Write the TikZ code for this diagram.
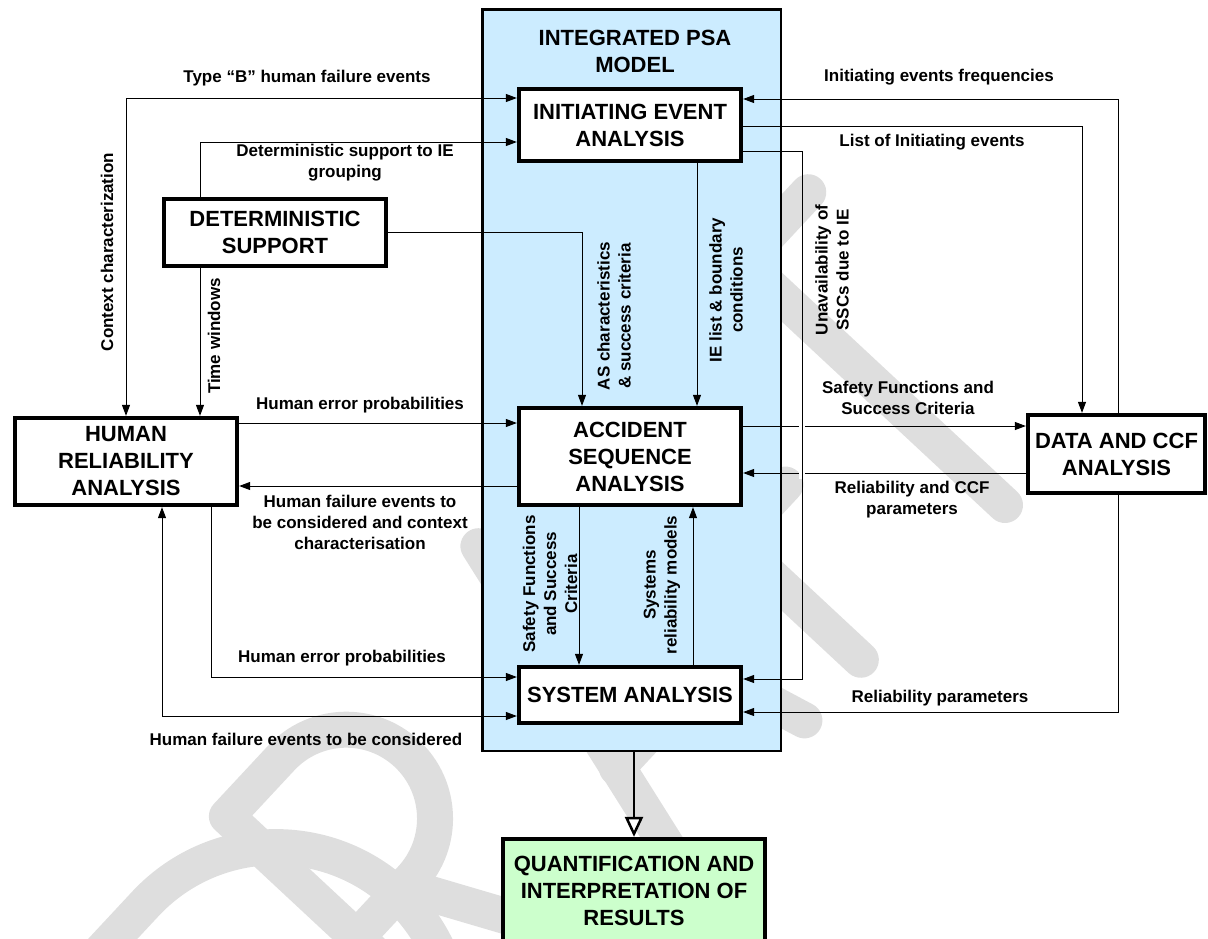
\documentclass[tikz,border=0pt]{standalone}
\usepackage{fontspec}
\setmainfont{Liberation Sans}
\usetikzlibrary{arrows.meta}

\definecolor{psablue}{RGB}{204,236,255}
\definecolor{resgreen}{RGB}{204,255,204}
\definecolor{wmgray}{RGB}{222,222,222}

\begin{document}
\begin{tikzpicture}[x=1pt, y=-1pt, >={Triangle[length=11pt,width=8pt]},
    box/.style={draw, line width=4.3pt, fill=white, align=center, inner sep=0pt,
        font=\fontsize{22}{27}\selectfont\bfseries},
    lbl/.style={align=center, inner sep=0pt, font=\fontsize{17}{21}\selectfont\bfseries},
    link/.style={line width=1pt},
    wmark/.style={draw=wmgray, line width=36pt, line cap=round, line join=round}]
    \useasboundingbox (0,0) rectangle (1208,938);
    \clip (0,0) rectangle (1208,938);

    % DRAFT watermark, letters drawn along a slanted baseline
    \begin{scope}[shift={(1005,505)}, x={(0.68pt,0.73pt)}, y={(-0.73pt,0.68pt)}]
        \draw[wmark] (-960,0) -- (-960,358) -- (-880,358)
            arc[start angle=90, end angle=-90, radius=179] -- cycle;
        \draw[wmark] (-760,0) -- (-760,358) -- (-680,358)
            arc[start angle=90, end angle=-90, radius=89] -- (-760,180);
        \draw[wmark] (-690,180) -- (-600,0);
        \draw[wmark] (-485,0) -- (-390,358) -- (-295,0);
        \draw[wmark] (-458,105) -- (-322,105);
        \draw[wmark] (-212,0) -- (-212,358) -- (-110,358);
        \draw[wmark] (-212,175) -- (-135,175);
        \draw[wmark] (0,0) -- (0,358);
        \draw[wmark] (-95,358) -- (95,358);
    \end{scope}

    % integrated model frame
    \node[draw, line width=2.5pt, fill=psablue, minimum width=298.5pt,
        minimum height=741.5pt] (psa) at (631.5,380) {};
    \node[lbl, font=\fontsize{22}{27}\selectfont\bfseries] (title) at (635,51)
        {INTEGRATED PSA\\MODEL};

    \node[box, minimum width=222pt, minimum height=72pt] (iea) at (630,125)
        {INITIATING EVENT\\ANALYSIS};
    \node[box, minimum width=222pt, minimum height=67pt] (ds) at (275,232.5)
        {DETERMINISTIC\\SUPPORT};
    \node[box, minimum width=222pt, minimum height=87pt] (hra) at (126,461.5)
        {HUMAN\\RELIABILITY\\ANALYSIS};
    \node[box, minimum width=222pt, minimum height=97pt] (asa) at (630,456.5)
        {ACCIDENT\\SEQUENCE\\ANALYSIS};
    \node[box, minimum width=177pt, minimum height=78pt] (dccf) at (1116.5,454)
        {DATA AND CCF\\ANALYSIS};
    \node[box, minimum width=222pt, minimum height=56pt] (sa) at (630,695)
        {SYSTEM ANALYSIS};
    \node[box, fill=resgreen, minimum width=262pt, minimum height=104pt] (quant) at (634,891)
        {QUANTIFICATION AND\\INTERPRETATION OF\\RESULTS};

    % bend points
    \coordinate (cB) at (126,98);
    \coordinate (dsA) at (200,142);
    \coordinate (asC) at (582,232.5);
    \coordinate (ieL) at (697,0);
    \coordinate (unC) at (802,151);
    \coordinate (unD) at (802,679);
    \coordinate (ifC) at (1118,99);
    \coordinate (liC) at (1082,126);
    \coordinate (rpC) at (1118,712);
    \coordinate (heC) at (211,677);
    \coordinate (hfC) at (162,716);
    \coordinate (sfC) at (579,0);
    \coordinate (srC) at (693,0);

    % links around the model
    \draw[link, <->] (hra.north) -- (cB) -- (cB -| iea.west);
    \draw[link, ->] (dsA |- ds.north) -- (dsA) -- (dsA -| iea.west);
    \draw[link, ->] (dsA |- ds.south) -- (dsA |- hra.north);
    \draw[link, ->] (ds.east) -- (asC) -- (asC |- asa.north);
    \draw[link, ->] (ieL |- iea.south) -- (ieL |- asa.north);
    \draw[link, ->] (ifC |- dccf.north) -- (ifC) -- (ifC -| iea.east);
    \draw[link, ->] (liC -| iea.east) -- (liC) -- (liC |- dccf.north);
    \draw[link, ->] (asa.east |- 0,426) -- (dccf.west |- 0,426);
    \draw[link, ->] (dccf.west |- 0,473) -- (asa.east |- 0,473);
    \draw[link, ->] (rpC |- dccf.south) -- (rpC) -- (rpC -| sa.east);
    \draw[link, ->] (hra.east |- 0,423) -- (asa.west |- 0,423);
    \draw[link, ->] (asa.west |- 0,486) -- (hra.east |- 0,486);
    \draw[link, ->] (heC |- hra.south) -- (heC) -- (heC -| sa.west);
    \draw[link, <->] (hfC |- hra.south) -- (hfC) -- (hfC -| sa.west);
    \draw[link, ->] (sfC |- asa.south) -- (sfC |- sa.north);
    \draw[link, ->] (srC |- sa.north) -- (srC |- asa.south);

    % unavailability link jumps over the two horizontal ones
    \draw[white, line width=6pt] (802,420) -- (802,432) (802,467) -- (802,479);
    \draw[link, ->] (unC -| iea.east) -- (unC) -- (unD) -- (unD -| sa.east);

    \draw[line width=2.5pt, -{Triangle[length=20pt,width=18pt,fill=white]}]
        (psa.south -| quant.north) -- (quant.north);

    % labels
    \node[lbl] (lTypeB) at (307,78) {Type “B” human failure events};
    \node[lbl] (lDsIe) at (345,163) {Deterministic support to IE\\grouping};
    \node[lbl, rotate=90] (lCtx) at (107,252) {Context characterization};
    \node[lbl, rotate=90] (lTime) at (214,336) {Time windows};
    \node[lbl, rotate=90] (lAs) at (614,316) {AS characteristics\\\& success criteria};
    \node[lbl, rotate=90] (lIe) at (726,290) {IE list \& boundary\\conditions};
    \node[lbl, rotate=90] (lUn) at (832,270) {Unavailability of\\SSCs due to IE};
    \node[lbl] (lFreq) at (939,77) {Initiating events frequencies};
    \node[lbl] (lList) at (932,142) {List of Initiating events};
    \node[lbl] (lSfOut) at (908,398) {Safety Functions and\\Success Criteria};
    \node[lbl] (lCcf) at (912,500) {Reliability and CCF\\parameters};
    \node[lbl] (lRel) at (940,698) {Reliability parameters};
    \node[lbl] (lHep) at (360,405) {Human error probabilities};
    \node[lbl] (lHfe) at (360,522) {Human failure events to\\be considered and context\\characterisation};
    \node[lbl] (lHepLow) at (342,658) {Human error probabilities};
    \node[lbl] (lHfeLow) at (306,739) {Human failure events to be considered};
    \node[lbl, rotate=90] (lSfIn) at (550,584) {Safety Functions\\and Success\\Criteria};
    \node[lbl, rotate=90] (lSys) at (662,585) {Systems\\reliability models};
\end{tikzpicture}
\end{document}
